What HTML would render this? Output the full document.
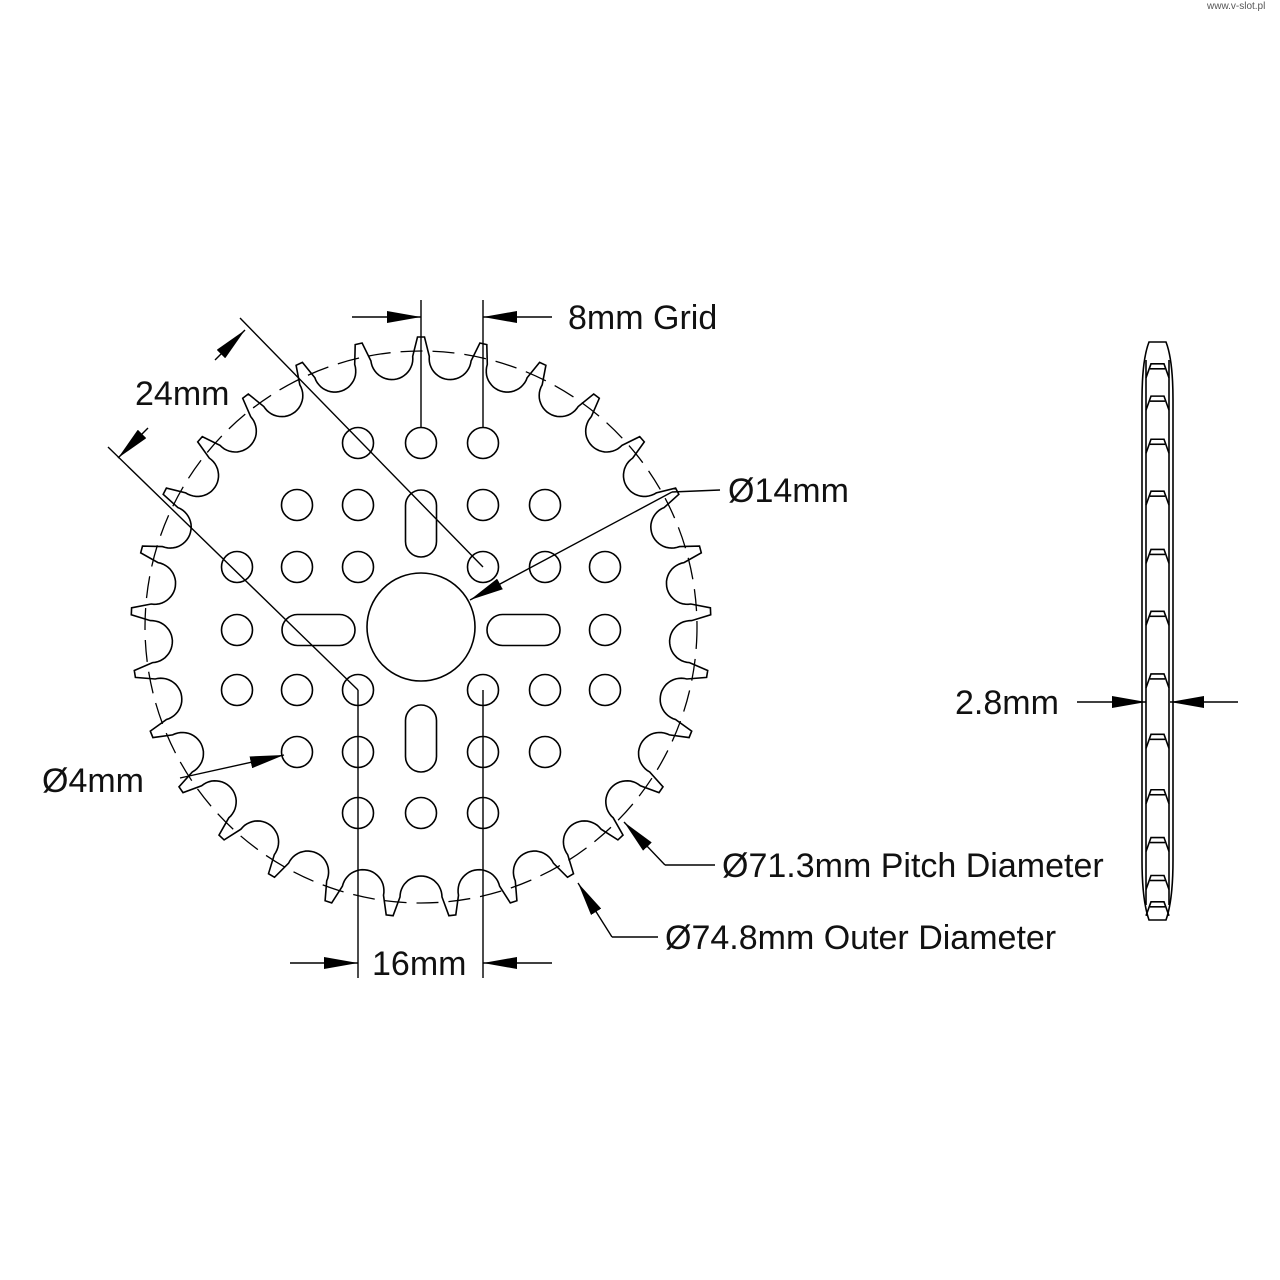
<!DOCTYPE html>
<html><head><style>
body{margin:0;background:#fff;}
svg{display:block;}
text{font-family:"Liberation Sans",sans-serif;font-size:34px;fill:#111;}
</style></head><body>
<svg id="s" width="1280" height="1280" viewBox="0 0 1280 1280" xmlns="http://www.w3.org/2000/svg">
<defs><marker id="b" viewBox="0 0 34 12" markerWidth="34" markerHeight="12" refX="34" refY="6" orient="auto" markerUnits="userSpaceOnUse"><path d="M0,0 L34,6 L0,12 z" fill="#000"/></marker></defs>
<text x="1207" y="9" style="font-size:10px;fill:#555">www.v-slot.pl</text>
<g fill="none" stroke="#000" stroke-width="1.6" id="g">
<circle cx="421" cy="627" r="276" stroke-dasharray="22,10" stroke-width="1.3"/>
<circle cx="421" cy="627" r="54"/>
</g>
<g stroke="#000" stroke-width="1.4" fill="none">
<line x1="421" y1="300" x2="421" y2="428"/><line x1="483" y1="300" x2="483" y2="428"/>
<line x1="352" y1="317" x2="421" y2="317" marker-end="url(#b)"/>
<line x1="552" y1="317" x2="483" y2="317" marker-end="url(#b)"/>
<line x1="358" y1="690" x2="358" y2="978"/><line x1="483" y1="690" x2="483" y2="978"/>
<line x1="290" y1="963" x2="358" y2="963" marker-end="url(#b)"/>
<line x1="552" y1="963" x2="483" y2="963" marker-end="url(#b)"/>
<line x1="358" y1="690" x2="108" y2="447"/><line x1="483" y1="567" x2="240" y2="318"/>
<line x1="148" y1="428" x2="118" y2="458" marker-end="url(#b)"/>
<line x1="215" y1="360" x2="245" y2="330" marker-end="url(#b)"/>
<line x1="720" y1="490" x2="672" y2="492"/><line x1="672" y1="492" x2="470" y2="600" marker-end="url(#b)"/>
<line x1="180" y1="778" x2="284" y2="755" marker-end="url(#b)"/>
<line x1="715" y1="865" x2="665" y2="865"/><line x1="665" y1="865" x2="624" y2="822" marker-end="url(#b)"/>
<line x1="658" y1="937" x2="612" y2="937"/><line x1="612" y1="937" x2="578" y2="883" marker-end="url(#b)"/>
<line x1="1077" y1="702" x2="1146" y2="702" marker-end="url(#b)"/>
<line x1="1238" y1="702" x2="1170" y2="702" marker-end="url(#b)"/>
</g>
<text x="568" y="329">8mm Grid</text>
<text x="372" y="975">16mm</text>
<text x="135" y="405">24mm</text>
<text x="728" y="502">Ø14mm</text>
<text x="42" y="792">Ø4mm</text>
<text x="722" y="877">Ø71.3mm Pitch Diameter</text>
<text x="665" y="949">Ø74.8mm Outer Diameter</text>
<text x="955" y="714">2.8mm</text>
</svg>
<script>
var s=document.getElementById('g'),NS="http://www.w3.org/2000/svg";
function el(t,a){var e=document.createElementNS(NS,t);for(var k in a)e.setAttribute(k,a[k]);s.appendChild(e);return e;}
var cx=421,cy=627,N=29,R=290,c=270,rho=21,pitch=2*Math.PI/N,tipHalf=3.5/R;
function P(th,u,v){ // local: u tangential, v radial, th = angle from top clockwise
 var x=cx+v*Math.sin(th)+u*Math.cos(th), y=cy-v*Math.cos(th)+u*Math.sin(th);
 return x.toFixed(1)+","+y.toFixed(1);}
var pts=[];
for(var k=0;k<N;k++){
 var tip=k*pitch, root=tip+pitch/2;
 // tip flat
 pts.push(P(tip-tipHalf,0,R)); pts.push(P(tip+tipHalf,0,R));
 // flank down to root circle
 pts.push(P(root,-rho,c));
 for(var j=1;j<24;j++){var a=Math.PI*j/24; pts.push(P(root,-rho*Math.cos(a),c-rho*Math.sin(a)));}
 pts.push(P(root,rho,c));
}
el('polygon',{points:pts.join(" ")});
var grid=[[443,[358,421,483]],[505,[297,358,483,545]],[567,[237,297,358,483,545,605]],[630,[237,605]],[690,[237,297,358,483,545,605]],[752,[297,358,483,545]],[813,[358,421,483]]];
grid.forEach(function(g){g[1].forEach(function(x){el('circle',{cx:x,cy:g[0],r:15.5});});});
el('rect',{x:405.5,y:490,width:31,height:67,rx:15.5});
el('rect',{x:405.5,y:705,width:31,height:67,rx:15.5});
el('rect',{x:282,y:614.5,width:73,height:31,rx:15.5});
el('rect',{x:487,y:614.5,width:73,height:31,rx:15.5});
// side view
el('path',{d:"M1149,342 Q1142,360 1142,400 L1142,860 Q1142,900 1149,920 L1166,920 Q1173,900 1173,860 L1173,400 Q1173,360 1166,342 Z"});
el('line',{x1:1146,y1:360,x2:1146,y2:905});el('line',{x1:1169,y1:360,x2:1169,y2:905});
for(var k=0;k<N;k++){var t=k*pitch;if(Math.sin(t)<-0.01)continue;
 var y=cy-R*Math.cos(t); if(y<345||y>915)continue;
 el('path',{d:"M1146,"+(y+14)+" L1151,"+y+" L1164,"+y+" L1169,"+(y+14)});
 el('line',{x1:1150,y1:y+5,x2:1165,y2:y+5});}
</script>
</body></html>
